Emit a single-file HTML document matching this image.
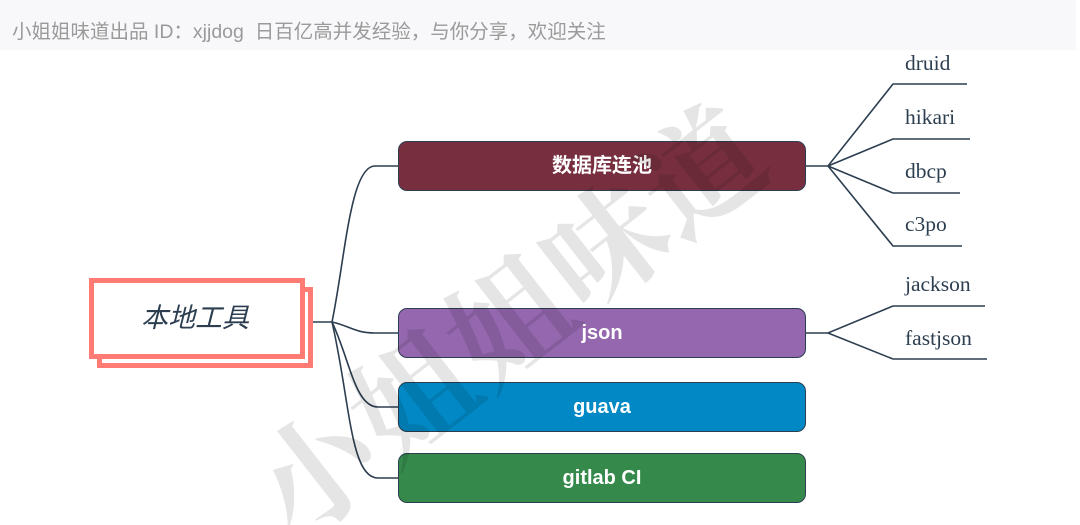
<!DOCTYPE html>
<html><head><meta charset="utf-8"><style>
html,body{margin:0;width:1080px;height:525px;background:#fff;overflow:hidden;position:relative;font-family:"Liberation Sans","Noto Sans CJK SC",sans-serif}
.clip{position:absolute;left:0;top:0;width:1080px;height:525px;overflow:hidden}
.banner{position:absolute;left:0;top:0;width:1076px;height:50px;background:#f8f8fa}
.banner span{position:absolute;left:12px;top:15px;font-size:19.5px;color:#9a9a9a;white-space:nowrap}
.box{position:absolute;left:398px;width:406px;height:48px;border:1.5px solid #2c3e50;border-radius:9px;color:#fff;font-weight:bold;font-size:20px;text-align:center;line-height:48px}
.leaf{position:absolute;font-family:"Liberation Serif",serif;font-size:21.5px;color:#2c3e50}
.wm{position:absolute;font-family:"Liberation Serif","Noto Serif CJK SC",serif;font-size:120px;font-weight:bold;color:rgba(0,0,0,0.1);transform:rotate(-38deg);transform-origin:left top;white-space:nowrap;letter-spacing:2px}
</style></head><body><div class="clip">
<div class="banner"><span>小姐姐味道出品 ID：xjjdog &nbsp;日百亿高并发经验，与你分享，欢迎关注</span></div>
<svg width="1080" height="525" style="position:absolute;left:0;top:0" fill="none" stroke="#2c3e50" stroke-width="1.6">
<path d="M313 322 H332"/>
<path d="M332 322 C345 260 350 166 375 166 H398"/>
<path d="M332 322 C350 326 355 333 375 333 H398"/>
<path d="M332 322 C350 360 355 407 378 407 H398"/>
<path d="M332 322 C350 400 350 478 378 478 H398"/>
<path d="M805 166 H828 L893 84 H967 M828 166 L893 139 H970 M828 166 L893 193 H960 M828 166 L893 246 H962"/>
<path d="M805 333 H828 L893 306 H985 M828 333 L893 359 H987"/>
<rect x="99.5" y="289.5" width="211" height="76" stroke="#ff7b74" stroke-width="5" fill="#fff"/>
<rect x="91.5" y="280.5" width="211" height="76" stroke="#ff7b74" stroke-width="5" fill="#fff"/>
</svg>
<div style="position:absolute;left:88px;top:296px;width:214px;text-align:center;font-size:27px;font-style:italic;color:#2c3e50">本地工具</div>
<div class="box" style="top:141px;background:#772f3f">数据库连池</div>
<div class="box" style="top:308px;background:#9467ae">json</div>
<div class="box" style="top:382px;background:#0288c4">guava</div>
<div class="box" style="top:453px;background:#358a4b">gitlab CI</div>
<div class="leaf" style="left:905px;top:51px">druid</div>
<div class="leaf" style="left:905px;top:105px">hikari</div>
<div class="leaf" style="left:905px;top:159px">dbcp</div>
<div class="leaf" style="left:905px;top:212px">c3po</div>
<div class="leaf" style="left:905px;top:272px">jackson</div>
<div class="leaf" style="left:905px;top:326px">fastjson</div>
<div class="wm" style="top:435px;left:212px">小姐姐味道</div>
</div></body></html>
